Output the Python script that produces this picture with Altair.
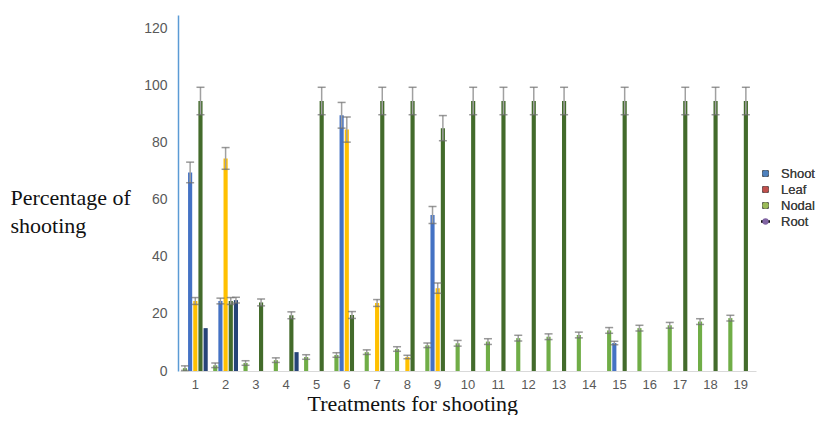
import altair as alt
import pandas as pd

# ---- data ----
treatments = [str(i) for i in range(1, 20)]

series_names = ["Series 1", "Series 2", "Series 3", "Series 4", "Series 5"]
bar_colors = ["#70AD47", "#4472C4", "#FFC000", "#436B2B", "#264478"]

# one list per series, None = no bar
s1_values = [1, 2, 2.8, 3.8, 4.9, 5.6, 6.6, 7.7, 9, 9.7, 10.3, 11.5, 12, 12.6, 14.2, 15, 16, 17.3, 18.5]
s1_errors = [0.8] * 9 + [1.0] * 10

s2_values = [69.5, 24.5, None, None, None, 89.5, None, None, 54.6, None, None, None, None, None, 9.8, None, None, None, None]
s2_errors = [3.6, 1.0, 0, 0, 0, 4.5, 0, 0, 3.0, 0, 0, 0, 0, 0, 0.6, 0, 0, 0, 0]

s3_values = [24.5, 74.4, None, None, None, 84.5, 23.8, 4.9, 29, None, None, None, None, None, None, None, None, None, None]
s3_errors = [1.2, 3.8, 0, 0, 0, 4.4, 1.2, 0.6, 1.8, 0, 0, 0, 0, 0, 0, 0, 0, 0, 0]

s4_values = [94.5, 24.5, 24, 19.5, 94.5, 19.6, 94.5, 94.5, 85, 94.5, 94.5, 94.5, 94.5, None, 94.5, None, 94.5, 94.5, 94.5]
s4_errors = [4.8, 1.2, 1.2, 1.2, 4.8, 1.2, 4.8, 4.8, 4.4, 4.8, 4.8, 4.8, 4.8, 0, 4.8, 0, 4.8, 4.8, 4.8]

s5_values = [15, 24.8, None, 6.6, None, None, None, None, None, None, None, None, None, None, None, None, None, None, None]
s5_errors = [0, 1.0, 0, 0, 0, 0, 0, 0, 0, 0, 0, 0, 0, 0, 0, 0, 0, 0, 0]

legend_names = ["Shoot", "Leaf", "Nodal", "Root"]
legend_colors = ["#4F81BD", "#C0504D", "#9BBB59", "#8064A2"]
legend_shapes = ["square", "square", "square", "M-1.4,-0.4H1.4V0.4H-1.4Z"]

y_ticks = [0, 20, 40, 60, 80, 100, 120]

# ---- build table ----
rows = []
all_vals = [s1_values, s2_values, s3_values, s4_values, s5_values]
all_errs = [s1_errors, s2_errors, s3_errors, s4_errors, s5_errors]
for name, vals, errs in zip(series_names, all_vals, all_errs):
    for t, v, e in zip(treatments, vals, errs):
        if v is None:
            continue
        rows.append({"treatment": t, "series": name, "value": v,
                     "low": v - e, "high": v + e, "err": e})
df = pd.DataFrame(rows)
err_df = df[df["err"] > 0]
legend_df = pd.DataFrame({"name": legend_names})

x_enc = alt.X(
    "treatment:N", sort=treatments,
    scale=alt.Scale(paddingInner=0.18, paddingOuter=0.095),
    axis=alt.Axis(
        labelAngle=0, ticks=False, labelPadding=7, labelFont="Liberation Sans",
        labelFontSize=13, labelColor="#595959", domainColor="#D9D9D9", domainWidth=1,
        title="Treatments for shooting", titleFont="Liberation Serif", titleFontSize=22,
        titleFontWeight="normal", titleColor="#111111", titleAlign="left",
        titleBaseline="alphabetic", titleX=127, titleY=39, grid=False,
    ),
)
xo_enc = alt.XOffset("series:N", sort=series_names,
                     scale=alt.Scale(domain=series_names, paddingInner=0.2))
y_scale = alt.Scale(domain=[0, 124.6], nice=False)

bars = alt.Chart(df).mark_bar().encode(
    x=x_enc,
    xOffset=xo_enc,
    y=alt.Y(
        "value:Q", scale=y_scale,
        axis=alt.Axis(
            values=y_ticks, ticks=False, grid=False, labelFont="Liberation Sans",
            labelFontSize=14, labelColor="#595959", labelPadding=11, offset=2,
            domainColor="#5B9BD5", domainWidth=1.5,
            title=["Percentage of", "shooting"], titleAngle=0, titleAlign="left",
            titleBaseline="alphabetic", titleX=-168, titleY=189,
            titleFont="Liberation Serif", titleFontSize=22, titleFontWeight="normal",
            titleColor="#111111", titleLineHeight=28,
        ),
    ),
    color=alt.Color("series:N", scale=alt.Scale(domain=series_names, range=bar_colors),
                    legend=None),
)

err_rule = alt.Chart(err_df).mark_rule(color="#A0A0A0", strokeWidth=1.5).encode(
    x=alt.X("treatment:N", sort=treatments),
    xOffset=alt.XOffset("series:N", sort=series_names),
    y=alt.Y("low:Q", scale=y_scale),
    y2="high:Q",
)
err_low = alt.Chart(err_df).mark_tick(color="#6E6E6E", size=8, thickness=1.5).encode(
    x=alt.X("treatment:N", sort=treatments),
    xOffset=alt.XOffset("series:N", sort=series_names),
    y=alt.Y("low:Q", scale=y_scale),
)
err_high = alt.Chart(err_df).mark_tick(color="#6E6E6E", size=8, thickness=1.5).encode(
    x=alt.X("treatment:N", sort=treatments),
    xOffset=alt.XOffset("series:N", sort=series_names),
    y=alt.Y("high:Q", scale=y_scale),
)

legend_props = dict(
    title=None, orient="none", legendX=579, legendY=152, padding=0,
    labelFont="Liberation Sans",
    labelFontSize=13, labelColor="#404040", symbolSize=40, symbolStrokeWidth=0,
    rowPadding=2, labelOffset=9, symbolOpacity=1,
)
legend_layer = alt.Chart(legend_df).transform_filter("false").mark_point(
    filled=True, opacity=0
).encode(
    color=alt.Color("name:N", scale=alt.Scale(domain=legend_names, range=legend_colors),
                    legend=alt.Legend(**legend_props)),
    shape=alt.Shape("name:N", scale=alt.Scale(domain=legend_names, range=legend_shapes),
                    legend=alt.Legend(**legend_props)),
)

chart = alt.layer(bars, err_rule, err_low, err_high, legend_layer).resolve_scale(
    color="independent"
).properties(
    width=576, height=356,
    autosize=alt.AutoSizeParams(type="none"),
    padding={"left": 172, "top": 7, "right": 61, "bottom": 44},
    background="white",
).configure_view(stroke=None)

chart.save("out.html", embed_options={"renderer": "svg", "actions": False})
